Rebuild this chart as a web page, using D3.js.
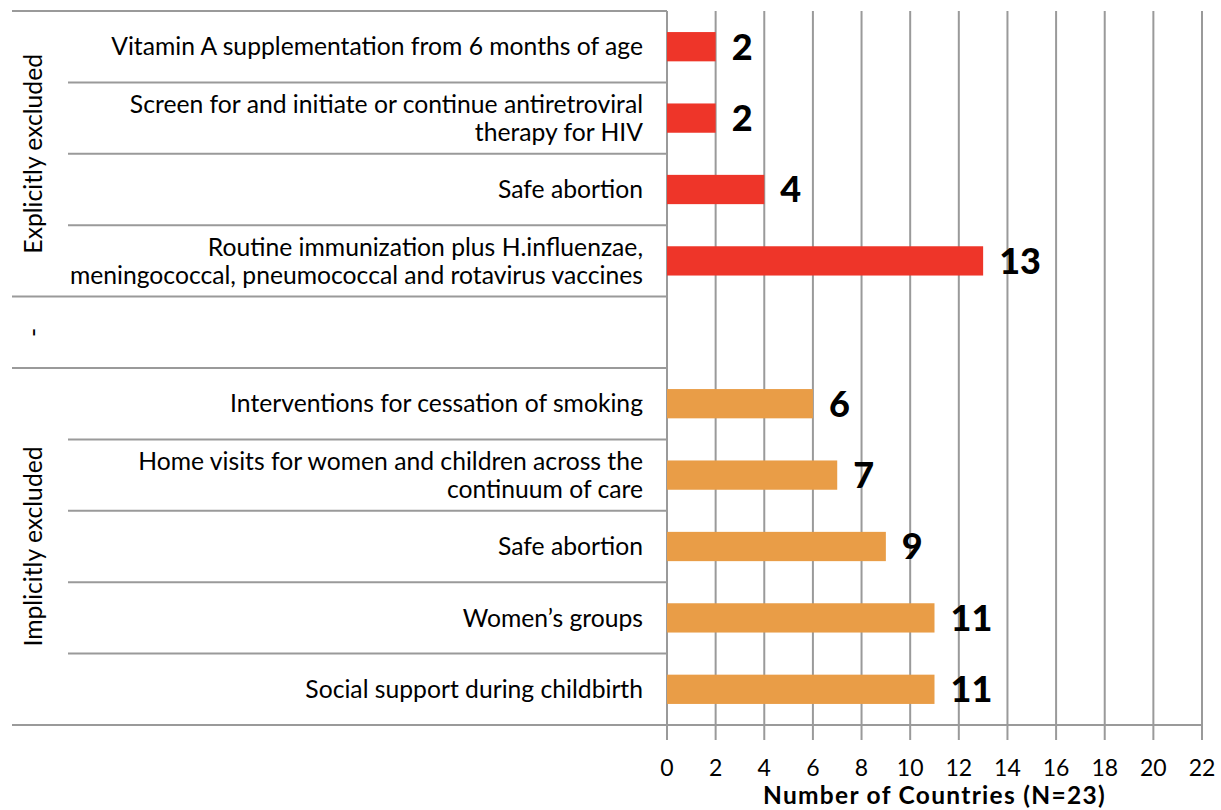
<!DOCTYPE html>
<html>
<head>
<meta charset="utf-8">
<script src="https://cdn.jsdelivr.net/npm/d3@7"></script>
<style>
  body { margin: 0; background: #fff; }
  svg { font-family: Lato, "Open Sans", sans-serif; }
</style>
</head>
<body>
<svg id="chart"></svg>
<script>
const width = 1221;
const height = 810;

// rows, top to bottom
const labels = [
  ['Vitamin A supplementation from 6 months of age'],
  ['Screen for and initiate or continue antiretroviral', 'therapy for HIV'],
  ['Safe abortion'],
  ['Routine immunization plus H.influenzae,', 'meningococcal, pneumococcal and rotavirus vaccines'],
  [''],
  ['Interventions for cessation of smoking'],
  ['Home visits for women and children across the', 'continuum of care'],
  ['Safe abortion'],
  ['Women\u2019s groups'],
  ['Social support during childbirth']
];
const values = [2, 2, 4, 13, null, 6, 7, 9, 11, 11];
const rowGroup = ['Explicitly excluded', 'Explicitly excluded', 'Explicitly excluded', 'Explicitly excluded',
  '-', 'Implicitly excluded', 'Implicitly excluded', 'Implicitly excluded', 'Implicitly excluded', 'Implicitly excluded'];
const groups = ['Explicitly excluded', '-', 'Implicitly excluded'];
const groupColors = { 'Explicitly excluded': '#ee3529', 'Implicitly excluded': '#e99d47' };
const xTicks = [0, 2, 4, 6, 8, 10, 12, 14, 16, 18, 20, 22];

const margin = { top: 11, left: 667, right: 19, bottom: 85 };
const plotW = width - margin.left - margin.right;
const plotH = height - margin.top - margin.bottom;

const svg = d3.select('#chart')
  .attr('width', width)
  .attr('height', height);

const g = svg.append('g')
  .attr('transform', `translate(${margin.left}, ${margin.top})`);

const rows = d3.range(values.length);

const x = d3.scaleLinear().domain([0, 22]).range([0, plotW]);
const y = d3.scaleBand().domain(rows).range([0, plotH]).paddingInner(0).paddingOuter(0);
const barH = y.bandwidth() * 0.41;

const gray = '#9a9a9a';
const fs = 24.7;

// vertical gridlines + ticks below
g.selectAll('.grid')
  .data(xTicks)
  .enter()
  .append('line')
  .attr('x1', d => x(d))
  .attr('x2', d => x(d))
  .attr('y1', 0)
  .attr('y2', plotH + 15)
  .attr('stroke', gray)
  .attr('stroke-width', 2);

// horizontal category separators
const boundaries = d3.range(values.length + 1);
g.selectAll('.sep')
  .data(boundaries)
  .enter()
  .append('line')
  .attr('x1', i => {
    const isGroupEdge = i === 0 || i === values.length || rowGroup[i] !== rowGroup[i - 1];
    return isGroupEdge ? 12 - margin.left : 68 - margin.left;
  })
  .attr('x2', 0)
  .attr('y1', i => i * y.step())
  .attr('y2', i => i * y.step())
  .attr('stroke', gray)
  .attr('stroke-width', 2);

// bottom axis line across plot
g.append('line')
  .attr('x1', 0).attr('x2', plotW)
  .attr('y1', plotH).attr('y2', plotH)
  .attr('stroke', gray).attr('stroke-width', 2);

// bars
g.selectAll('.bar')
  .data(rows.filter(i => values[i] != null))
  .enter()
  .append('rect')
  .attr('x', 0)
  .attr('y', i => y(i) + (y.bandwidth() - barH) / 2)
  .attr('width', i => x(values[i]))
  .attr('height', barH)
  .attr('fill', i => groupColors[rowGroup[i]]);

// value labels
g.selectAll('.val')
  .data(rows.filter(i => values[i] != null))
  .enter()
  .append('text')
  .attr('x', i => x(values[i]) + 16)
  .attr('y', i => y(i) + y.bandwidth() / 2)
  .attr('dy', '0.36em')
  .attr('font-size', 36)
  .attr('font-weight', 900)
  .attr('fill', '#000')
  .text(i => values[i]);

// category labels
const catText = g.selectAll('.cat')
  .data(rows)
  .enter()
  .append('text')
  .attr('text-anchor', 'end')
  .attr('font-size', fs)
  .attr('fill', '#000');

catText.each(function (i) {
  const lines = labels[i];
  const lh = 28;
  const cy = y(i) + y.bandwidth() / 2;
  const start = cy - (lines.length - 1) * lh / 2;
  d3.select(this).selectAll('tspan')
    .data(lines)
    .enter()
    .append('tspan')
    .attr('x', -24)
    .attr('y', (d, k) => start + k * lh)
    .attr('dy', '0.35em')
    .text(d => d);
});

// group labels (rotated)
groups.forEach(grp => {
  const idx = rows.filter(i => rowGroup[i] === grp);
  const top = y(idx[0]);
  const bottom = y(idx[idx.length - 1]) + y.bandwidth();
  const cy = (top + bottom) / 2;
  g.append('text')
    .attr('transform', `translate(${33 - margin.left}, ${cy}) rotate(-90)`)
    .attr('text-anchor', 'middle')
    .attr('dy', '0.35em')
    .attr('font-size', fs)
    .attr('fill', '#000')
    .text(grp);
});

// x tick labels
g.selectAll('.tick')
  .data(xTicks)
  .enter()
  .append('text')
  .attr('x', d => x(d))
  .attr('y', plotH + 43)
  .attr('dy', '0.35em')
  .attr('text-anchor', 'middle')
  .attr('font-size', 23)
  .attr('fill', '#000')
  .text(d => d);

// axis title
g.append('text')
  .attr('x', plotW / 2)
  .attr('y', plotH + 70)
  .attr('dy', '0.35em')
  .attr('text-anchor', 'middle')
  .attr('font-size', 24.5)
  .attr('font-weight', 'bold')
  .attr('letter-spacing', 1.3)
  .attr('fill', '#000')
  .text('Number of Countries (N=23)');
</script>
</body>
</html>
